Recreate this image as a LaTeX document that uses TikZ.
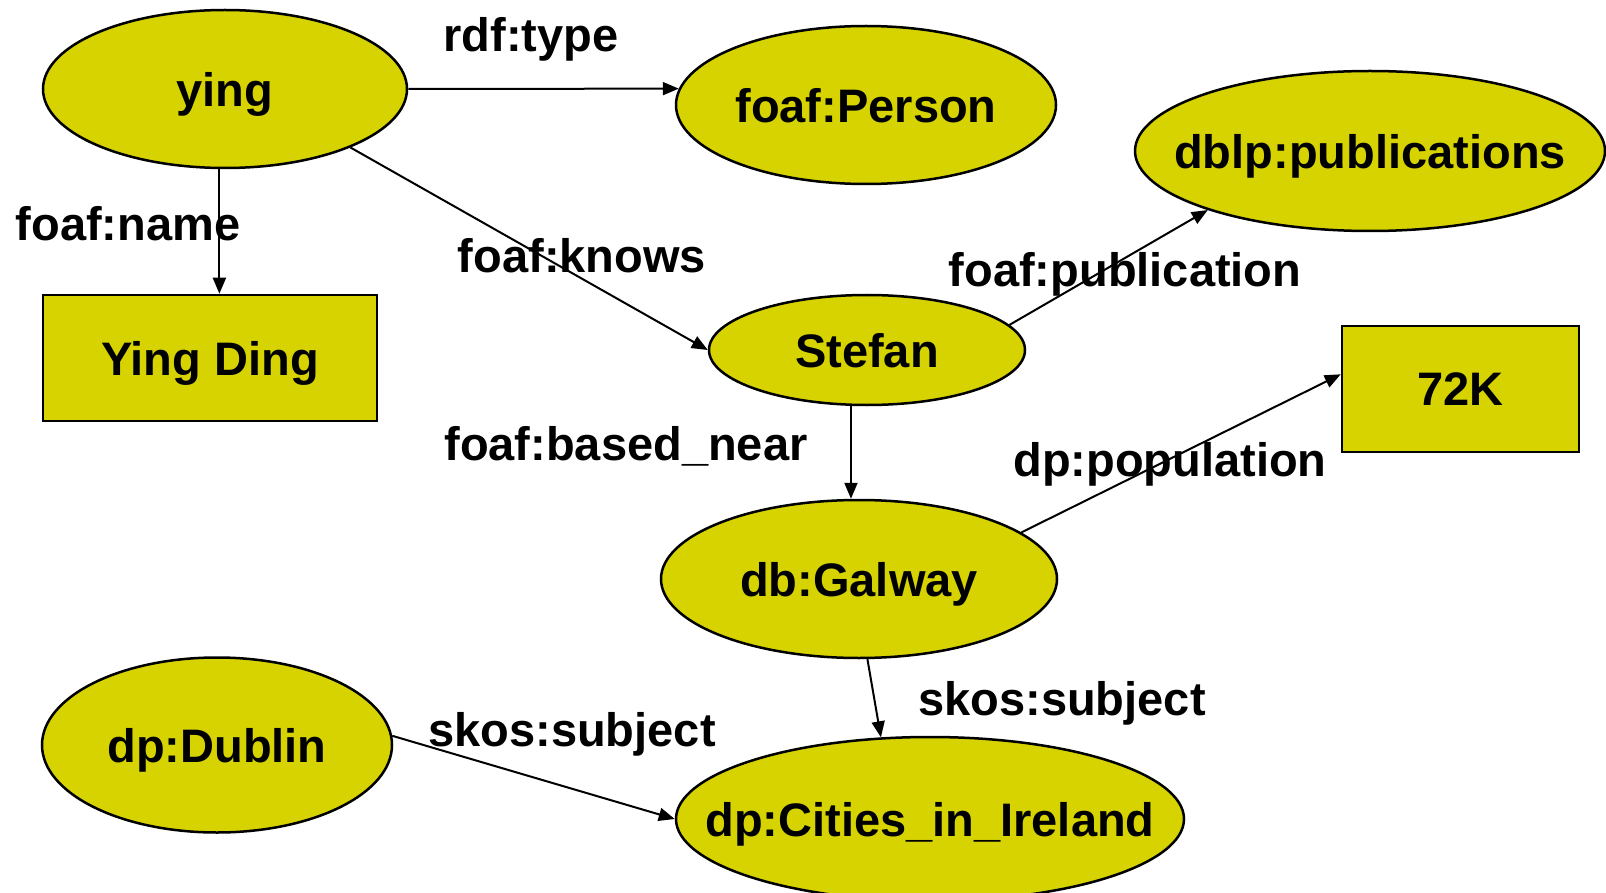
\documentclass[tikz,border=0pt]{standalone}
\usepackage{fontspec}
\setmainfont{Liberation Sans}
\usetikzlibrary{shapes.geometric,arrows.meta}
\definecolor{nodefill}{RGB}{214,211,0}
\begin{document}
\begin{tikzpicture}[x=1pt, y=-1pt, >={Triangle[length=16pt,width=13pt]},
  every node/.style={font=\fontsize{47}{56}\selectfont\bfseries},
  res/.style={draw, ellipse, fill=nodefill, line width=2.5pt, inner xsep=-60pt, inner ysep=0pt, text depth=0pt},
  lit/.style={draw, rectangle, fill=nodefill, line width=2.5pt, minimum height=126pt, text depth=0pt},
  prop/.style={anchor=base, inner sep=0pt},
  link/.style={->, line width=2pt}]
\useasboundingbox (0,0) rectangle (1606,893);
\node[res, minimum width=364pt, minimum height=158pt] (ying) at (225,89) {ying};
\node[lit, minimum width=334pt] (ding) at (210,358) {Ying Ding};
\node[res, minimum width=380pt, minimum height=158pt] (person) at (866,105) {foaf:Person};
\node[res, minimum width=470pt, minimum height=160pt] (dblp) at (1370,151) {dblp:publications};
\node[res, minimum width=316pt, minimum height=110pt] (stefan) at (867,350) {Stefan};
\node[lit, minimum width=237pt] (kilo) at (1460.5,389) {72K};
\node[res, minimum width=396pt, minimum height=158pt] (galway) at (859,579) {db:Galway};
\node[res, minimum width=350pt, minimum height=175pt] (dublin) at (217,745) {dp:Dublin};
\node[res, minimum width=508pt, minimum height=164pt] (cities) at (930,819) {dp:Cities\_in\_Ireland};
\draw[link] (ying.east) -- (person.175);
\draw[link] (ying.266) -- (ying.266 |- ding.north);
\draw[link] (ying.-25) -- (stefan.west);
\draw[link] (stefan.10) -- (dblp.200);
\draw[link] (stefan.254) -- (stefan.254 |- galway.north);
\draw[link] (galway.16) -- (kilo.173);
\draw[link] (galway.276) -- (cities.121);
\draw[link] (dublin.3) -- (cities.west);
\node[prop] (rdftype) at (531,52) {rdf:type};
\node[prop] (foafname) at (128,241) {foaf:name};
\node[prop] (foafknows) at (582,273) {foaf:knows};
\node[prop] (foafpub) at (1125,287) {foaf:publication};
\node[prop] (basednear) at (626,460) {foaf:based\_near};
\node[prop] (population) at (1170,476) {dp:population};
\node[prop] (subjgalway) at (1062,715) {skos:subject};
\node[prop] (subjdublin) at (572,746) {skos:subject};
\end{tikzpicture}
\end{document}
